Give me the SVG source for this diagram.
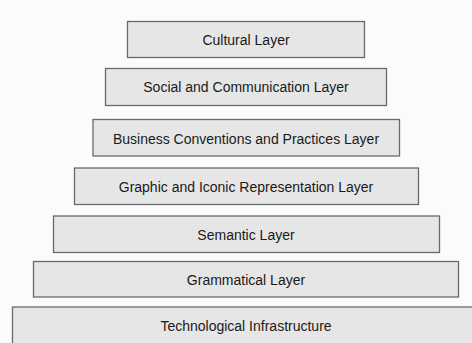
<svg xmlns="http://www.w3.org/2000/svg" width="472" height="343" viewBox="0 0 472 343">
<style>
.box{fill:#e6e6e6;stroke:#6a6a6a;stroke-width:1.3}
.lbl{font-family:"Liberation Sans",Arial,sans-serif;font-size:14px;fill:#1a1a1a;text-anchor:middle}
</style>
<rect width="472" height="343" fill="#fbfbfb"/>
<g id="cultural"><rect class="box" x="127.5" y="21.5" width="237" height="36"/><text class="lbl" x="246" y="44.5">Cultural Layer</text></g>
<g id="social"><rect class="box" x="105.5" y="68.5" width="281" height="37"/><text class="lbl" x="246" y="92">Social and Communication Layer</text></g>
<g id="business"><rect class="box" x="93" y="119.5" width="306.5" height="36.5"/><text class="lbl" x="246" y="144">Business Conventions and Practices Layer</text></g>
<g id="graphic"><rect class="box" x="74.5" y="168" width="344" height="36.5"/><text class="lbl" x="246" y="192">Graphic and Iconic Representation Layer</text></g>
<g id="semantic"><rect class="box" x="53.5" y="216" width="386" height="36.5"/><text class="lbl" x="246" y="240">Semantic Layer</text></g>
<g id="grammatical"><rect class="box" x="33.5" y="261.5" width="425" height="35.5"/><text class="lbl" x="246" y="285">Grammatical Layer</text></g>
<g id="technological"><rect class="box" x="12.5" y="307" width="470" height="40"/><text class="lbl" x="246" y="330.5">Technological Infrastructure</text></g>
<g id="connectors"></g>
</svg>
